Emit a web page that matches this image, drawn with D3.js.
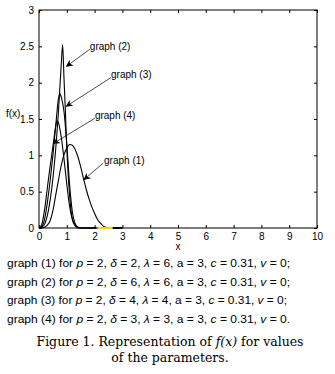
<!DOCTYPE html>
<html lang="en">
<head>
<meta charset="UTF-8">
<title>f(x) for values of the parameters</title>
<script src="https://d3js.org/d3.v7.min.js"></script>
<style>
  body { margin: 0; background: #fff; }
  svg text { fill: #000; }
</style>
</head>
<body>
<svg id="chart"></svg>
<script>
// ---- data ----
const xTicks = [0, 1, 2, 3, 4, 5, 6, 7, 8, 9, 10];
const yTicks = [0, 0.5, 1, 1.5, 2, 2.5, 3];

const graph1 = [[0,0],[0.2,0.01],[0.3,0.04],[0.4,0.1],[0.5,0.24],[0.6,0.45],[0.7,0.66],[0.8,0.86],[0.9,1.01],[1.0,1.1],[1.1,1.15],[1.2,1.14],[1.3,1.08],[1.4,0.98],[1.5,0.84],[1.6,0.68],[1.7,0.53],[1.8,0.4],[1.9,0.29],[2.0,0.2],[2.1,0.12],[2.2,0.07],[2.3,0.03],[2.4,0.01],[2.6,0],[3,0]];
const graph2 = [[0,0],[0.1,0.01],[0.2,0.05],[0.3,0.17],[0.4,0.38],[0.5,0.68],[0.6,1.08],[0.7,1.6],[0.8,2.25],[0.85,2.52],[0.9,2.05],[0.95,1.6],[1.0,1.1],[1.1,0.45],[1.2,0.12],[1.3,0.03],[1.4,0],[3,0]];
const graph3 = [[0,0],[0.1,0.02],[0.2,0.12],[0.3,0.35],[0.4,0.65],[0.5,1.0],[0.6,1.4],[0.7,1.78],[0.75,1.85],[0.8,1.8],[0.9,1.6],[1.0,1.15],[1.1,0.6],[1.2,0.22],[1.3,0.06],[1.4,0.01],[1.5,0],[3,0]];
const graph4 = [[0,0],[0.1,0.05],[0.2,0.25],[0.3,0.55],[0.4,0.85],[0.5,1.12],[0.6,1.4],[0.65,1.48],[0.7,1.45],[0.8,1.25],[0.9,0.95],[1.0,0.6],[1.1,0.3],[1.2,0.12],[1.3,0.04],[1.4,0.01],[1.5,0],[3,0]];

// small coloured stubs lying on the x axis
const stubBlue = [[2.05,0],[2.1,0]];
const stubYellow = [[2.1,0],[2.65,0]];

// annotations: label, label anchor (x, y), arrow tail, arrow tip
const labels = ["graph (1)", "graph (2)", "graph (3)", "graph (4)"];
const labelAt = [[2.34,0.93],[1.83,2.5],[2.59,2.11],[2.01,1.55]];
const arrowFrom = [[2.3,0.89],[1.83,2.46],[2.59,2.07],[2.01,1.51]];
const arrowTo = [[1.6,0.66],[0.97,2.22],[0.96,1.67],[0.5,1.16]];

const legendLines = [
  ["2","2","6","3","0.31","0;"],
  ["2","6","6","3","0.31","0;"],
  ["2","4","4","3","0.31","0;"],
  ["2","3","3","3","0.31","0."]
];
const captionLines = ["Figure 1. Representation of |f(x)| for values", "of the parameters."];

// ---- layout ----
const W = 335, H = 374;
const plot = { left: 39, right: 317, top: 10, bottom: 228 };

const svg = d3.select("#chart").attr("width", W).attr("height", H);

const x = d3.scaleLinear().domain([0, 10]).range([plot.left, plot.right]);
const y = d3.scaleLinear().domain([0, 3]).range([plot.bottom, plot.top]);

const tickFont = "Liberation Sans, Arial, sans-serif";

// box
svg.append("rect")
  .attr("x", plot.left).attr("y", plot.top)
  .attr("width", plot.right - plot.left).attr("height", plot.bottom - plot.top)
  .attr("fill", "none").attr("stroke", "#000").attr("stroke-width", 1);

// axes with inward ticks on all sides
const axB = svg.append("g").attr("transform", `translate(0,${plot.bottom})`)
  .call(d3.axisBottom(x).tickValues(xTicks).tickSize(-3).tickPadding(5).tickFormat(d3.format("d")));
const axT = svg.append("g").attr("transform", `translate(0,${plot.top})`)
  .call(d3.axisTop(x).tickValues(xTicks).tickSize(-3).tickFormat(""));
const axL = svg.append("g").attr("transform", `translate(${plot.left},0)`)
  .call(d3.axisLeft(y).tickValues(yTicks).tickSize(-3).tickPadding(5).tickFormat(d => d));
const axR = svg.append("g").attr("transform", `translate(${plot.right},0)`)
  .call(d3.axisRight(y).tickValues(yTicks).tickSize(-3).tickFormat(""));

[axB, axT, axL, axR].forEach(g => {
  g.select(".domain").remove();
  g.selectAll("line").attr("stroke", "#000");
  g.selectAll("text").attr("font-family", tickFont).attr("font-size", 10).attr("fill", "#000");
});

// axis labels
svg.append("text").attr("x", (plot.left + plot.right) / 2).attr("y", 250)
  .attr("text-anchor", "middle").attr("font-family", tickFont).attr("font-size", 10).text("x");
svg.append("text").attr("x", 6).attr("y", 117)
  .attr("font-family", tickFont).attr("font-size", 10).text("f(x)");

// curves
const line = d3.line().x(d => x(d[0])).y(d => y(d[1])).curve(d3.curveMonotoneX);
[graph1, graph2, graph3, graph4].forEach(s => {
  svg.append("path").attr("d", line(s))
    .attr("fill", "none").attr("stroke", "#000").attr("stroke-width", 1.1);
});

const flat = d3.line().x(d => x(d[0])).y(d => y(d[1]));
svg.append("path").attr("d", flat(stubBlue)).attr("stroke", "#3050c0").attr("stroke-width", 2);
svg.append("path").attr("d", flat(stubYellow)).attr("stroke", "#f2d200").attr("stroke-width", 2);

// arrow head marker
svg.append("defs").append("marker")
  .attr("id", "head").attr("viewBox", "0 0 10 10")
  .attr("refX", 10).attr("refY", 5)
  .attr("markerWidth", 7).attr("markerHeight", 7)
  .attr("markerUnits", "userSpaceOnUse")
  .attr("orient", "auto")
  .append("path").attr("d", "M0,0 L10,5 L0,10 L3,5 Z").attr("fill", "#000");

labels.forEach((t, i) => {
  svg.append("line")
    .attr("x1", x(arrowFrom[i][0])).attr("y1", y(arrowFrom[i][1]))
    .attr("x2", x(arrowTo[i][0])).attr("y2", y(arrowTo[i][1]))
    .attr("stroke", "#000").attr("stroke-width", 0.7)
    .attr("marker-end", "url(#head)");
  svg.append("text")
    .attr("x", x(labelAt[i][0])).attr("y", y(labelAt[i][1]))
    .attr("dy", "0.35em")
    .attr("font-family", tickFont).attr("font-size", 10)
    .text(t);
});

// parameter lines under the chart (condensed look)
const legendFont = "Liberation Sans Narrow, Arial Narrow, Liberation Sans, sans-serif";
legendLines.forEach((v, i) => {
  const t = svg.append("text")
    .attr("x", 7).attr("y", 267 + i * 18.5)
    .attr("font-family", legendFont).attr("font-size", 11.5)
    .attr("textLength", i === 2 ? 280 : 283)
    .attr("lengthAdjust", "spacingAndGlyphs");
  const parts = [
    [`graph (${i + 1}) for `, false], ["p", true], [` = ${v[0]}, `, false],
    ["\u03b4", true], [` = ${v[1]}, `, false],
    ["\u03bb", true], [` = ${v[2]}, `, false],
    ["a", false], [` = ${v[3]}, `, false],
    ["c", true], [` = ${v[4]}, `, false],
    ["v", true], [` = ${v[5]}`, false]
  ];
  parts.forEach(p => t.append("tspan").attr("font-style", p[1] ? "italic" : "normal").text(p[0]));
});

// caption
const capFont = "DejaVu Serif, Liberation Serif, serif";
captionLines.forEach((c, i) => {
  const t = svg.append("text")
    .attr("x", 170).attr("y", 346 + i * 16)
    .attr("text-anchor", "middle")
    .attr("font-family", capFont).attr("font-size", 12.5)
    .attr("fill", "#222");
  c.split("|").forEach((p, j) => {
    t.append("tspan").attr("font-style", j % 2 ? "italic" : "normal").text(p);
  });
});
</script>
</body>
</html>
